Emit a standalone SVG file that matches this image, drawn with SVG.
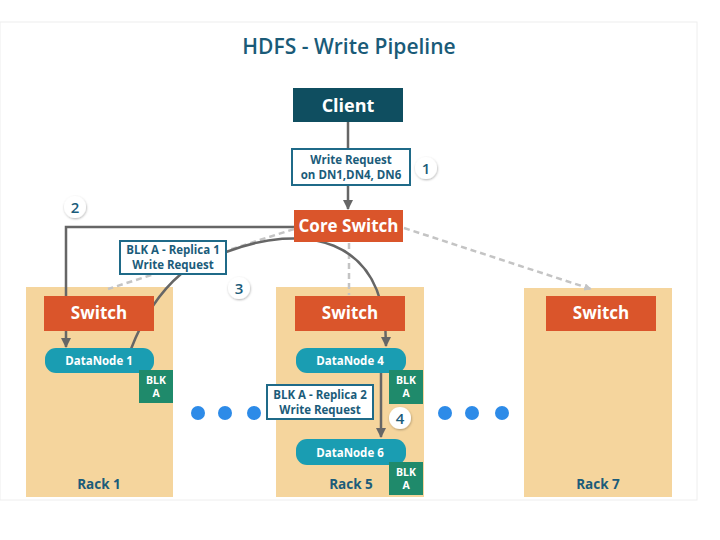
<svg xmlns="http://www.w3.org/2000/svg" width="720" height="540" viewBox="0 0 720 540">
<defs>
<style>
text{font-family:"Open Sans","Noto Sans","Liberation Sans",sans-serif;font-weight:700;text-anchor:middle}
.rack{fill:#f5d59d}
.sw{fill:#da552b}
.swt{fill:#fff;font-size:17px}
.dn{fill:#1a9db2}
.dnt{fill:#fff;font-size:11.5px}
.blk{fill:#1f8a6b}
.blkt{fill:#fff;font-size:10.5px}
.lbl{fill:#fff;stroke:#1f6a88;stroke-width:2}
.lblt{fill:#1b5c7a;font-size:11.5px}
.rk{fill:#1b5c7a;font-size:13.5px}
.ln{fill:none;stroke:#666;stroke-width:2.5}
.dash{fill:none;stroke:#c4c4c4;stroke-width:2.5;stroke-dasharray:6 4}
.badge{fill:#fff;filter:url(#sh)}
.bt{fill:#1b5c7a;font-size:15px;font-weight:600}
.dot{fill:#2d8be8}
</style>
<marker id="ah" viewBox="0 0 10 10" refX="9" refY="5" markerWidth="4" markerHeight="4" orient="auto">
<path d="M0,0 L10,5 L0,10 z" fill="#666"/>
</marker>
<marker id="ahg" viewBox="0 0 10 10" refX="9" refY="5" markerWidth="3" markerHeight="3" orient="auto">
<path d="M0,0 L10,5 L0,10 z" fill="#c4c4c4"/>
</marker>
<filter id="sh" x="-50%" y="-50%" width="200%" height="200%">
<feDropShadow dx="0.5" dy="1" stdDeviation="1.2" flood-color="#000" flood-opacity="0.3"/>
</filter>
</defs>
<rect width="720" height="540" fill="#fff"/>
<rect x="0" y="22" width="697" height="478" fill="#fff" stroke="#eeeeee" stroke-width="1"/>
<text x="349" y="54" style="font-size:21px;font-weight:600;fill:#1a5b78">HDFS - Write Pipeline</text>

<g id="rack1-bg"><rect class="rack" x="26" y="287" width="147" height="210"/></g>
<g id="rack5-bg"><rect class="rack" x="276" y="287" width="148" height="210"/></g>
<g id="rack7-bg"><rect class="rack" x="524" y="288" width="148" height="209"/></g>

<g id="connectors">
<line class="ln" x1="348" y1="122" x2="348" y2="149"/>
<line class="ln" x1="348" y1="185" x2="348" y2="209" marker-end="url(#ah)"/>
<path class="ln" d="M294,227 H66 V347" marker-end="url(#ah)"/>
<line class="dash" x1="294" y1="229" x2="108" y2="289"/>
<line class="dash" x1="349" y1="243" x2="349" y2="295"/>
<line class="dash" x1="404" y1="228" x2="591" y2="289" marker-end="url(#ahg)"/>
<path class="ln" d="M131,349 Q150,300 181,274"/>
<path class="ln" d="M226,252 C300,224 386,232 386,346" marker-end="url(#ah)"/>
<line class="ln" x1="381" y1="373" x2="381" y2="437" marker-end="url(#ah)"/>
</g>

<g id="client"><rect x="293" y="88" width="110" height="34" fill="#0f4e60"/><text x="348" y="112" style="fill:#fff;font-size:18px">Client</text></g>
<g id="write-request"><rect class="lbl" x="292" y="149" width="118" height="36"/><text class="lblt" x="351" y="164">Write Request</text><text class="lblt" x="351" y="179">on DN1,DN4, DN6</text></g>
<g id="badge1"><circle class="badge" cx="426" cy="168" r="11"/><text class="bt" x="426" y="174">1</text></g>
<g id="core-switch"><rect class="sw" x="294" y="210" width="109" height="32"/><text class="swt" x="348.5" y="232">Core Switch</text></g>
<g id="badge2"><circle class="badge" cx="75" cy="207" r="11"/><text class="bt" x="75" y="213">2</text></g>
<g id="replica1"><rect class="lbl" x="120" y="241" width="106" height="33"/><text class="lblt" x="173" y="254">BLK A - Replica 1</text><text class="lblt" x="173" y="269">Write Request</text></g>
<g id="badge3"><circle class="badge" cx="239" cy="288" r="11"/><text class="bt" x="239" y="294">3</text></g>

<g id="rack1">
<rect class="sw" x="44" y="296" width="110" height="35"/><text class="swt" x="99" y="319">Switch</text>
<rect class="dn" x="45" y="348" width="109" height="25" rx="11"/><text class="dnt" x="99" y="365">DataNode 1</text>
<rect class="blk" x="139" y="370" width="34" height="33"/><text class="blkt" x="156" y="384">BLK</text><text class="blkt" x="156" y="397">A</text>
<text class="rk" x="99" y="489">Rack 1</text>
</g>

<g id="rack5">
<rect class="sw" x="295" y="296" width="110" height="35"/><text class="swt" x="350" y="319">Switch</text>
<rect class="dn" x="296" y="348" width="110" height="25" rx="11"/><text class="dnt" x="350" y="365">DataNode 4</text>
<rect class="blk" x="389" y="370" width="34" height="34"/><text class="blkt" x="406" y="384">BLK</text><text class="blkt" x="406" y="397">A</text>
<rect class="dn" x="296" y="439" width="110" height="26" rx="11"/><text class="dnt" x="350" y="457">DataNode 6</text>
<rect class="blk" x="389" y="462" width="34" height="33"/><text class="blkt" x="406" y="476">BLK</text><text class="blkt" x="406" y="489">A</text>
<text class="rk" x="351" y="489">Rack 5</text>
</g>
<g id="replica2"><rect class="lbl" x="267" y="385" width="106" height="34"/><text class="lblt" x="320" y="399">BLK A - Replica 2</text><text class="lblt" x="320" y="414">Write Request</text></g>
<g id="badge4"><circle class="badge" cx="400" cy="418" r="11"/><text class="bt" x="400" y="424">4</text></g>

<g id="rack7">
<rect class="sw" x="546" y="296" width="110" height="35"/><text class="swt" x="601" y="319">Switch</text>
<text class="rk" x="598" y="489">Rack 7</text>
</g>

<g id="dots">
<circle class="dot" cx="198" cy="413" r="7"/><circle class="dot" cx="225" cy="413" r="7"/><circle class="dot" cx="254" cy="413" r="7"/>
<circle class="dot" cx="445" cy="413" r="7"/><circle class="dot" cx="472" cy="413" r="7"/><circle class="dot" cx="502" cy="413" r="7"/>
</g>
</svg>
